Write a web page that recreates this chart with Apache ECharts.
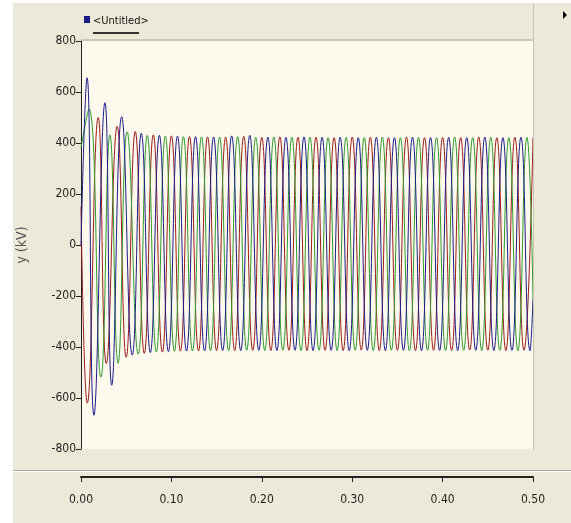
<!DOCTYPE html>
<html>
<head>
<meta charset="utf-8">
<title>Untitled</title>
<script src="https://cdn.jsdelivr.net/npm/echarts@6/dist/echarts.min.js"></script>
<style>
  body { margin: 0; background: #ffffff; }
  #main { width: 571px; height: 523px; }
</style>
</head>
<body>
<div id="main"></div>
<script>
// peaks and troughs of each phase, times in ms, values in kV
let redT = [0, 7, 19, 28, 40, 50, 60, 70, 80, 90, 100, 110, 120, 130, 140, 150, 160, 170, 180, 190,
  200, 210, 220, 230, 240, 250, 260, 270, 280, 290, 300, 310, 320, 330, 340, 350, 360, 370, 380, 390,
  400, 410, 420, 430, 440, 450, 460, 470, 480, 490, 500];
let redV = [150, -620, 500, -465, 465, -440, 445, -425, 432, -420, 428, -416, 425, -415, 424, -414, 423, -414, 426, -413,
  422, -414, 424, -413, 422, -414, 423, -413, 421, -414, 423, -412, 422, -414, 421, -413, 423, -414, 421, -413,
  422, -414, 421, -412, 423, -413, 421, -414, 422, -413, 421];

let blueT = [0, 6.7, 14.3, 26.5, 34, 45, 56.7, 66.7, 76.7, 86.7, 96.7, 106.7, 116.7, 126.7, 136.7, 146.7, 156.7,
  166.7, 176.7, 186.7, 196.7, 206.7, 216.7, 226.7, 236.7, 246.7, 256.7, 266.7, 276.7, 286.7, 296.7, 306.7, 316.7,
  326.7, 336.7, 346.7, 356.7, 366.7, 376.7, 386.7, 396.7, 406.7, 416.7, 426.7, 436.7, 446.7, 456.7, 466.7, 476.7,
  486.7, 496.7, 500];
let blueV = [0, 656, -668, 558, -550, 503, -432, 438, -422, 430, -418, 427, -416, 425, -415, 424, -414,
  428, -414, 430, -413, 423, -414, 422, -413, 424, -414, 422, -413, 423, -414, 421, -413,
  422, -414, 421, -413, 423, -414, 421, -413, 422, -414, 421, -413, 423, -414, 421, -413,
  422, -414, -210];

let greenT = [0, 8.8, 22, 32, 41, 51, 63.3, 73.3, 83.3, 93.3, 103.3, 113.3, 123.3, 133.3, 143.3, 153.3, 163.3,
  173.3, 183.3, 193.3, 203.3, 213.3, 223.3, 233.3, 243.3, 253.3, 263.3, 273.3, 283.3, 293.3, 303.3, 313.3, 323.3,
  333.3, 343.3, 353.3, 363.3, 373.3, 383.3, 393.3, 403.3, 413.3, 423.3, 433.3, 443.3, 453.3, 463.3, 473.3, 483.3,
  493.3, 500];
let greenV = [380, 534, -518, 432, -464, 444, -428, 430, -420, 427, -417, 425, -415, 424, -414, 423, -414,
  425, -413, 422, -414, 424, -413, 422, -414, 423, -413, 421, -414, 422, -413, 421, -414,
  423, -413, 421, -414, 422, -413, 421, -414, 423, -413, 421, -414, 422, -413, 421, -414,
  422, -210];

let xTicks = [0, 0.5, 0.1];       // min, max, step (s)
let yTicks = [-800, 800, 200];    // min, max, step (kV)

// no narrow face installed: ask the canvas for a condensed stretch
let narrow = '"DejaVu Sans", sans-serif';
let squeeze = 'condensed';

function toData(ts, vs) {
  return ts.map((t, i) => [t / 1000, vs[i]]);
}

function phase(name, color, ts, vs) {
  return {
    name: name,
    type: 'line',
    data: toData(ts, vs),
    smooth: 0.5,
    showSymbol: false,
    clip: true,
    lineStyle: { color: color, width: 1 },
    itemStyle: { color: color }
  };
}

let chart = echarts.init(document.getElementById('main'));
let option = {
  animation: false,
  backgroundColor: '#ffffff',
  graphic: [
    // grey panel behind everything
    { type: 'rect', z: -10, shape: { x: 13, y: 3, width: 558, height: 520 }, style: { fill: '#ece9d8' } },
    // title strip edges
    { type: 'line', z: 5, shape: { x1: 81, y1: 40, x2: 533, y2: 40 }, style: { stroke: '#a8a596', lineWidth: 1 } },
    { type: 'line', z: 5, shape: { x1: 533.5, y1: 3, x2: 533.5, y2: 450 }, style: { stroke: '#c9c5b5', lineWidth: 1 } },
    // legend entry
    { type: 'rect', shape: { x: 84, y: 16, width: 6, height: 7 }, style: { fill: '#1b1b8c' } },
    { type: 'text', x: 93, y: 21, style: { text: '<Untitled>', font: 'normal ' + squeeze + ' 11px ' + narrow, fill: '#111', verticalAlign: 'middle' } },
    { type: 'line', shape: { x1: 93, y1: 33, x2: 139, y2: 33 }, style: { stroke: '#333', lineWidth: 2 } },
    // separator between plot and time axis
    { type: 'line', shape: { x1: 13, y1: 470.5, x2: 571, y2: 470.5 }, style: { stroke: '#aca899', lineWidth: 1 } },
    { type: 'line', shape: { x1: 13, y1: 471.5, x2: 571, y2: 471.5 }, style: { stroke: '#ffffff', lineWidth: 1 } },
    // little arrow at top right
    { type: 'polygon', shape: { points: [[563, 11], [567, 15], [563, 19]] }, style: { fill: '#000' } }
  ],
  grid: {
    left: 81,
    right: 38,
    top: 41,
    bottom: 74,
    show: true,
    backgroundColor: '#fdf9ed',
    borderWidth: 0
  },
  xAxis: {
    type: 'value',
    min: xTicks[0],
    max: xTicks[1],
    interval: xTicks[2],
    offset: 28,
    splitLine: { show: false },
    axisLine: { onZero: false, lineStyle: { color: '#222', width: 2 } },
    axisTick: { length: 5, lineStyle: { color: '#222' } },
    axisLabel: {
      margin: 17,
      fontFamily: narrow,
      fontWeight: squeeze,
      fontSize: 12,
      color: '#222',
      formatter: v => v.toFixed(2)
    }
  },
  yAxis: {
    type: 'value',
    min: yTicks[0],
    max: yTicks[1],
    interval: yTicks[2],
    name: 'y (kV)',
    nameLocation: 'middle',
    nameRotate: 90,
    nameGap: 52,
    nameTextStyle: { fontFamily: narrow, fontWeight: squeeze, fontSize: 14, color: '#555' },
    splitLine: { show: false },
    axisLine: { show: true, onZero: false, lineStyle: { color: '#222', width: 1 } },
    axisTick: { show: true, length: 5, lineStyle: { color: '#222' } },
    axisLabel: { margin: 5, fontFamily: narrow, fontWeight: squeeze, fontSize: 12, color: '#222' }
  },
  series: [
    phase('A', '#9a1c1c', redT, redV),
    phase('B', '#2f9a2f', greenT, greenV),
    phase('C', '#1b1b8c', blueT, blueV)
  ]
};
chart.setOption(option);
</script>
</body>
</html>
